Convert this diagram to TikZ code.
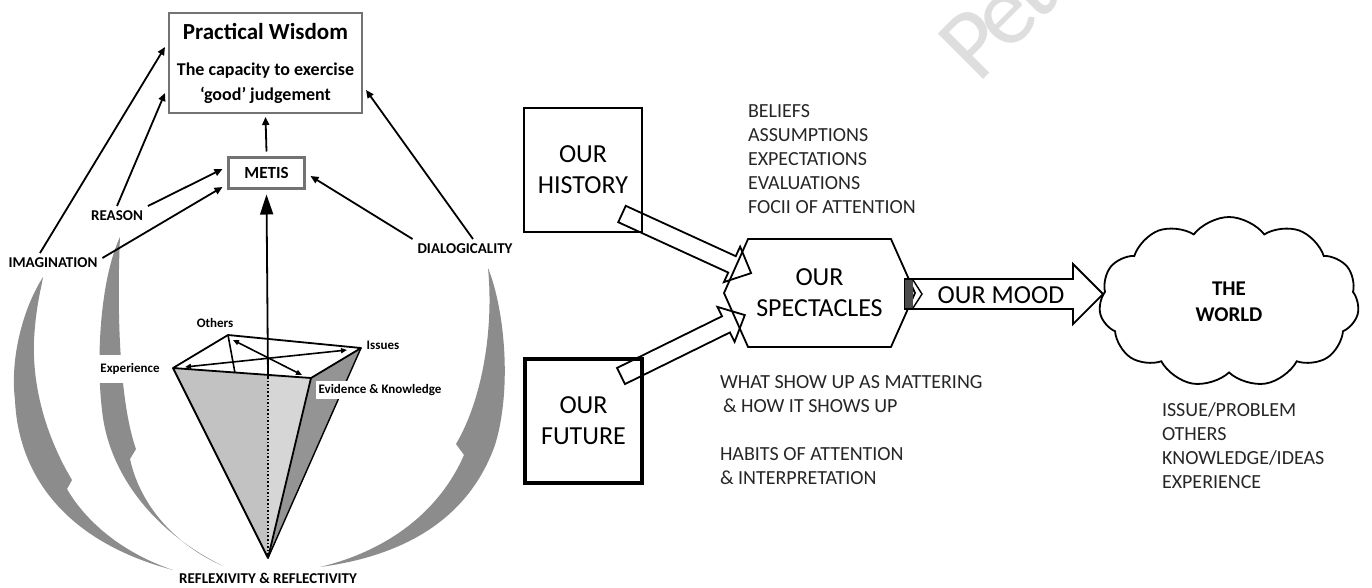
\documentclass[tikz,border=0pt]{standalone}
\usepackage{fontspec}
\setmainfont{Carlito}
\usetikzlibrary{arrows.meta,shapes.symbols}

\begin{document}
\begin{tikzpicture}[x={(1pt,0pt)},y={(0pt,-1pt)},
  every node/.style={inner sep=0pt, outer sep=0pt},
  sidelbl/.style={font=\bfseries\fontsize{15}{17}\selectfont, inner sep=2pt, outer sep=3pt},
  cornerlbl/.style={font=\bfseries\fontsize{13}{15}\selectfont},
  thinarr/.style={line width=1.8pt, -{Triangle[length=8pt,width=7pt]}},
  tinyarr/.style={line width=1.6pt, {Triangle[length=6pt,width=5pt]}-{Triangle[length=6pt,width=5pt]}},
  listtxt/.style={font=\fontsize{20}{24}\selectfont, align=left, anchor=north west, text=black!85},
  bigtxt/.style={font=\fontsize{26}{31}\selectfont, align=center},
  crescent/.style={fill=black!45, draw=none},
  greybox/.style={draw=black!55, line width=2.2pt},
  blockarr/.style={line width=1.8pt, line join=miter}]
\useasboundingbox (0,0) rectangle (1372,587);

% watermark
\node[rotate=45, anchor=base west, font=\fontsize{100}{100}\selectfont, text=black!13] (mark) at (978,84) {P\kern-10pt e\kern-8pt t};

% grey curved arrows
\fill[crescent] (43,277) .. controls (22,310) and (10,360) .. (15,400) .. controls (18,470) and (60,540) .. (173,570)
  .. controls (120,552) and (85,520) .. (67,489) -- (72,480) .. controls (48,440) and (32,390) .. (34,340)
  .. controls (36,305) and (41,290) .. (43,277) -- cycle;
\fill[crescent] (120,237) .. controls (100,280) and (96,360) .. (102,410) .. controls (108,470) and (150,530) .. (223,566)
  .. controls (175,545) and (140,505) .. (130,459) -- (136,449) .. controls (122,410) and (116,330) .. (120,237) -- cycle;
\fill[crescent] (488,268) .. controls (505,310) and (512,390) .. (495,445) .. controls (470,515) and (410,555) .. (320,567)
  .. controls (390,550) and (440,510) .. (464,455) -- (456,444) .. controls (482,400) and (494,330) .. (488,268) -- cycle;

% pyramid
\coordinate (pOth) at (228,335);
\coordinate (pIss) at (361,348);
\coordinate (pExp) at (173,368);
\coordinate (pEvi) at (311,378);
\coordinate (pApex) at (268,558);
\coordinate (pMid) at (268,377);
\coordinate (pFoot) at (235,373);
\fill[black!42] (pEvi) -- (pIss) -- (pApex) -- cycle;
\fill[black!24] (pExp) -- (pEvi) -- (pApex) -- cycle;
\fill[black!16] (pMid) -- (pEvi) -- (pApex) -- cycle;
\draw[line width=1.4pt] (pIss) -- (pApex);
\draw[line width=1.8pt, line join=round] (pExp) -- (pApex) -- (pEvi);
\draw[dotted, line width=1.6pt] (pMid) -- (pApex);
\draw[line width=1.8pt, line join=round] (pOth) -- (pIss) -- (pEvi) -- (pExp) -- cycle;
\draw[line width=1.6pt] (pOth) -- (pFoot);
\draw[tinyarr] (233,340) -- (302,375);
\draw[tinyarr] (185,367) -- (347,350);

\node[cornerlbl] (othlbl) at (215,323) {Others};
\node[cornerlbl] (isslbl) at (383,345) {Issues};
\node[cornerlbl, fill=white, inner xsep=4pt, minimum height=28pt] (explbl) at (130,369) {Experience};
\node[cornerlbl, fill=white, inner sep=3pt] (evilbl) at (380,390) {Evidence \& Knowledge};

% practical wisdom side
\node[greybox, minimum width=193pt, minimum height=100pt, outer sep=4pt, align=center,
  font=\bfseries\fontsize{18}{25}\selectfont] (pw) at (265.5,63)
  {{\fontsize{23}{25}\selectfont Practical Wisdom}\\[11pt]The capacity to exercise\\‘good’ judgement};
\node[greybox, minimum width=76pt, minimum height=31pt, outer sep=6pt,
  font=\bfseries\fontsize{17}{20}\selectfont] (metis) at (266.5,173) {METIS};

\node[sidelbl] (reason) at (117,216) {REASON};
\node[sidelbl] (imag) at (53,263) {IMAGINATION};
\node[sidelbl] (dial) at (465,249) {DIALOGICALITY};
\node[sidelbl] (reflex) at (268,578) {REFLEXIVITY \& REFLECTIVITY};

\draw[thinarr] ([xshift=-13pt]imag.north) -- ([yshift=16pt]pw.west);
\draw[thinarr] (reason.north) -- ([yshift=-30pt]pw.west);
\draw[thinarr] (reason.north east) -- ([yshift=4pt]metis.west);
\draw[thinarr] ([yshift=5pt]imag.east) -- ([yshift=-14pt]metis.west);
\draw[thinarr] (dial.north west) -- ([yshift=-3pt]metis.east);
\draw[thinarr] ([xshift=8pt]dial.north) -- ([yshift=-27pt]pw.east);
\draw[thinarr] (metis.north) -- (pw.south);
\draw[line width=1.8pt, -{Triangle[length=20pt,width=13pt]}] (pMid) -- (metis.south);

% spectacles side
\node[draw, line width=2.6pt, minimum width=118pt, minimum height=124pt, bigtxt] (hist) at (583,170) {OUR\\HISTORY};
\node[draw, line width=4pt, minimum width=117pt, minimum height=124pt, bigtxt] (future) at (583.5,421) {OUR\\FUTURE};
\node[signal, draw, line width=1.8pt, signal to=west and east, signal pointer angle=132,
  minimum width=191pt, minimum height=108pt, bigtxt] (spec) at (819.5,293) {OUR\\SPECTACLES};
\node[cloud, draw, line width=1.8pt, cloud puffs=11, cloud puff arc=105, aspect=1.55,
  minimum width=260pt, minimum height=170pt, align=center,
  font=\bfseries\fontsize{21}{26}\selectfont] (world) at (1229,302) {THE\\WORLD};

\coordinate (histtail) at (622,214);
\coordinate (futtail) at (621,376);
\coordinate (moodtail) at (905,294);
\begin{scope}[shift={(histtail)}, rotate=-24.6]
\draw[blockarr] (0,-9) -- (121,-9) -- (121,-19.5) -- (142,0) -- (121,19.5) -- (121,9) -- (0,9) -- cycle;
\end{scope}
\begin{scope}[shift={(futtail)}, rotate=26.2]
\draw[blockarr] (0,-9) -- (117,-9) -- (117,-19.5) -- (138,0) -- (117,19.5) -- (117,9) -- (0,9) -- cycle;
\end{scope}
\begin{scope}[shift={(moodtail)}]
\draw[blockarr] (0,-15) -- (168,-15) -- (168,-30) -- (198,0) -- (168,30) -- (168,15) -- (0,15) -- cycle;
\fill[black!70] (0,-14) rectangle (8,14);
\draw[line width=1.4pt] (8,-14) -- (17,0) -- (8,14);
\end{scope}
\node[font=\fontsize{26}{31}\selectfont] (mood) at (1001,295) {OUR MOOD};

\node[listtxt] (lenses) at (748,105) {BELIEFS\\ASSUMPTIONS\\EXPECTATIONS\\EVALUATIONS\\FOCII OF ATTENTION};
\node[listtxt] (matter) at (720,376) {WHAT SHOW UP AS MATTERING\\\hspace{3pt}\& HOW IT SHOWS UP};
\node[listtxt] (habits) at (720,448) {HABITS OF ATTENTION\\\& INTERPRETATION};
\node[listtxt] (worldlist) at (1162,403) {ISSUE/PROBLEM\\OTHERS\\KNOWLEDGE/IDEAS\\EXPERIENCE};
\end{tikzpicture}
\end{document}
